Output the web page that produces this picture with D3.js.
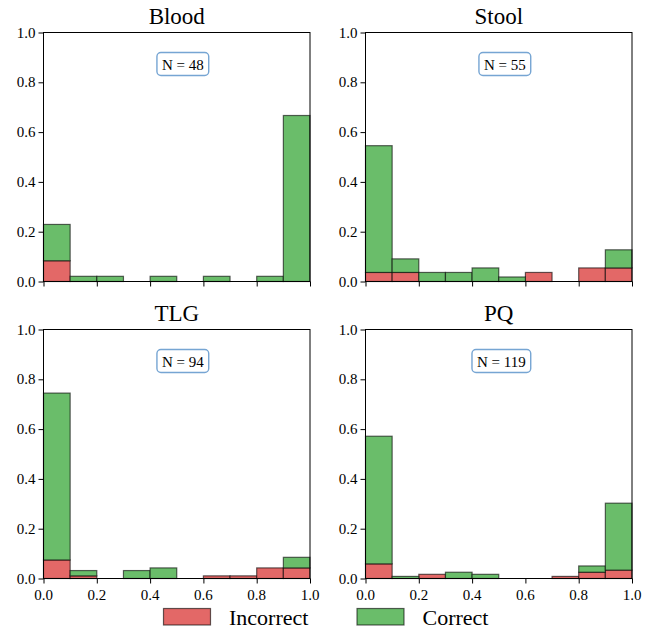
<!DOCTYPE html>
<html>
<head>
<meta charset="utf-8">
<script src="https://cdn.jsdelivr.net/npm/d3@7"></script>
<style>
  body { margin: 0; background: #fff; }
</style>
</head>
<body>
<div id="chart"></div>
<script>
// bin edges 0.0 - 1.0, width 0.1
const binEdges = [0, 0.1, 0.2, 0.3, 0.4, 0.5, 0.6, 0.7, 0.8, 0.9, 1.0];
const panelNames = ['Blood', 'Stool', 'TLG', 'PQ'];
const panelN = [48, 55, 94, 119];

// counts per bin
const bloodIncorrect = [4, 0, 0, 0, 0, 0, 0, 0, 0, 0];
const bloodCorrect   = [7, 1, 1, 0, 1, 0, 1, 0, 1, 32];
const stoolIncorrect = [2, 2, 0, 0, 0, 0, 2, 0, 3, 3];
const stoolCorrect   = [28, 3, 2, 2, 3, 1, 0, 0, 0, 4];
const tlgIncorrect   = [7, 1, 0, 0, 0, 0, 1, 1, 4, 4];
const tlgCorrect     = [63, 2, 0, 3, 4, 0, 0, 0, 0, 4];
const pqIncorrect    = [7, 0, 2, 0, 0, 0, 0, 1, 3, 4];
const pqCorrect      = [61, 1, 0, 3, 2, 0, 0, 0, 3, 32];

const incorrectAll = [bloodIncorrect, stoolIncorrect, tlgIncorrect, pqIncorrect];
const correctAll = [bloodCorrect, stoolCorrect, tlgCorrect, pqCorrect];

const xTicks = [0, 0.2, 0.4, 0.6, 0.8, 1.0];
const yTicks = [0, 0.2, 0.4, 0.6, 0.8, 1.0];
const seriesNames = ['Incorrect', 'Correct'];
const seriesColors = ['#e36867', '#6abd6a'];

const serif = 'Liberation Serif';
const W = 651, H = 630;
const svg = d3.select('#chart').append('svg')
  .attr('width', W)
  .attr('height', H);

const marks = svg.append('g');
const labels = svg.append('g')
  .attr('font-family', serif)
  .attr('fill', '#000');

// panel placement (plot area edges, pixels)
const panelW = 266.5, panelH = 249;
const panelX = [43.5, 365.5, 43.5, 365.5];
const panelY = [32.5, 32.5, 329.5, 329.5];

panelNames.forEach((name, i) => {
  const x0 = panelX[i], y0 = panelY[i];
  const x = d3.scaleLinear().domain([0, 1]).range([x0, x0 + panelW]);
  const y = d3.scaleLinear().domain([0, 1]).range([y0 + panelH, y0]);
  const n = panelN[i];
  const g = marks.append('g');

  const bins = d3.range(10).map((b) => ({
    x0: binEdges[b],
    x1: binEdges[b + 1],
    inc: incorrectAll[i][b] / n,
    tot: (incorrectAll[i][b] + correctAll[i][b]) / n
  }));

  // incorrect at the bottom
  g.selectAll('.inc')
    .data(bins)
    .enter()
    .append('rect')
    .attr('class', 'inc')
    .attr('x', (d) => x(d.x0))
    .attr('width', (d) => x(d.x1) - x(d.x0))
    .attr('y', (d) => y(d.inc))
    .attr('height', (d) => y(0) - y(d.inc))
    .attr('fill', seriesColors[0])
    .attr('stroke', 'rgba(0,0,0,0.6)')
    .attr('stroke-width', 1.2);

  // correct stacked on top
  g.selectAll('.cor')
    .data(bins)
    .enter()
    .append('rect')
    .attr('class', 'cor')
    .attr('x', (d) => x(d.x0))
    .attr('width', (d) => x(d.x1) - x(d.x0))
    .attr('y', (d) => y(d.tot))
    .attr('height', (d) => y(d.inc) - y(d.tot))
    .attr('fill', seriesColors[1])
    .attr('stroke', 'rgba(0,0,0,0.6)')
    .attr('stroke-width', 1.2);

  // frame
  g.append('rect')
    .attr('x', x0)
    .attr('y', y0)
    .attr('width', panelW)
    .attr('height', panelH)
    .attr('fill', 'none')
    .attr('stroke', '#000')
    .attr('stroke-width', 1);

  // tick marks from the axes, labels drawn separately below
  const xAxis = d3.axisBottom(x).tickValues(xTicks).tickSize(5).tickFormat('');
  const yAxis = d3.axisLeft(y).tickValues(yTicks).tickSize(5).tickFormat('');
  const xa = g.append('g')
    .attr('transform', `translate(0, ${y0 + panelH})`)
    .call(xAxis);
  const ya = g.append('g')
    .attr('transform', `translate(${x0}, 0)`)
    .call(yAxis);
  [xa, ya].forEach((a) => {
    a.select('.domain').remove();
    a.selectAll('text').remove();
  });

  // tick labels
  labels.selectAll(null)
    .data(yTicks)
    .enter()
    .append('text')
    .attr('x', x0 - 8)
    .attr('y', (d) => y(d) + 5)
    .attr('text-anchor', 'end')
    .attr('font-size', 15)
    .text(d3.format('.1f'));
  if (i >= 2) {
    labels.selectAll(null)
      .data(xTicks)
      .enter()
      .append('text')
      .attr('x', (d) => x(d))
      .attr('y', y0 + panelH + 21.5)
      .attr('text-anchor', 'middle')
      .attr('font-size', 15)
      .text(d3.format('.1f'));
  }

  // title
  labels.append('text')
    .attr('x', x0 + panelW / 2)
    .attr('y', y0 - 9)
    .attr('text-anchor', 'middle')
    .attr('font-size', 23)
    .text(name);

  // N box
  const box = labels.append('rect');
  const t = labels.append('text')
    .attr('x', x0 + panelW * 0.62 - 5)
    .attr('y', y0 + 37)
    .attr('text-anchor', 'end')
    .attr('font-size', 15)
    .text(`N = ${n}`);
  const tw = t.node().getComputedTextLength();
  box.attr('x', x0 + panelW * 0.62 - tw - 10)
    .attr('y', y0 + 20)
    .attr('width', tw + 10)
    .attr('height', 23)
    .attr('rx', 4)
    .attr('fill', '#fff')
    .attr('stroke', '#76a5d3')
    .attr('stroke-width', 1.4);
});

// legend
const legendX = [163.5, 357];
seriesNames.forEach((s, k) => {
  labels.append('rect')
    .attr('x', legendX[k])
    .attr('y', 608.5)
    .attr('width', 47)
    .attr('height', 16.5)
    .attr('fill', seriesColors[k])
    .attr('stroke', 'rgba(0,0,0,0.6)')
    .attr('stroke-width', 1.2);
  labels.append('text')
    .attr('x', legendX[k] + 65.5)
    .attr('y', 624.5)
    .attr('font-size', 22)
    .text(s);
});
</script>
</body>
</html>
